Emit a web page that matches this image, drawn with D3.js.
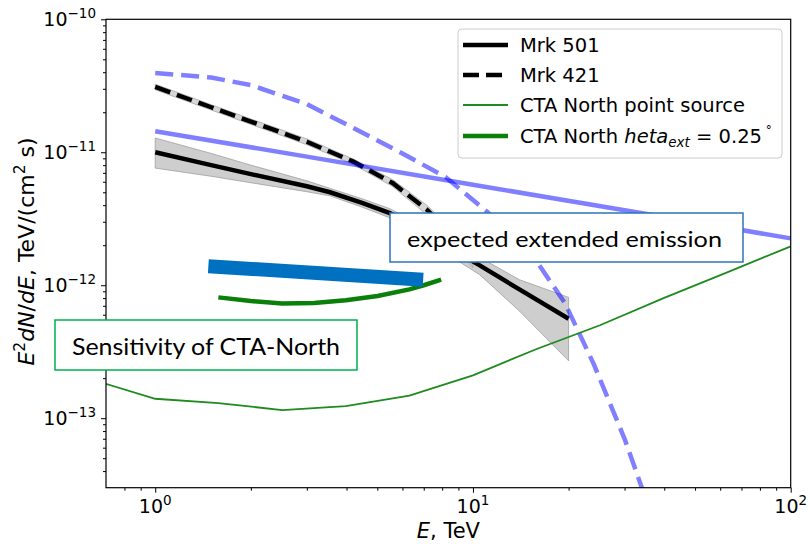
<!DOCTYPE html>
<html><head><meta charset="utf-8">
<script src="https://cdn.jsdelivr.net/npm/d3@7"></script>
<style>
body{margin:0;background:#fff}
svg{display:block}
text{font-family:"DejaVu Sans",sans-serif;fill:#000}
</style>
</head><body>
<svg id="c" width="810" height="544"></svg>
<script>
// ---------------- data ----------------
const mrk501E     = [1, 1.5, 2, 3, 3.55, 4.5, 5.5, 7, 10.5, 14, 20];
const mrk501F     = [1e-11, 8.0e-12, 6.85e-12, 5.55e-12, 5.0e-12, 4.15e-12, 3.47e-12, 2.48e-12, 1.41e-12, 9.3e-13, 5.6e-13];
const mrk501Hi    = [1.28e-11, 9.8e-12, 8.0e-12, 6.1e-12, 5.35e-12, 4.45e-12, 3.75e-12, 2.75e-12, 1.62e-12, 1.1e-12, 8.1e-13];
const mrk501Lo    = [7.6e-12, 6.6e-12, 5.9e-12, 5.05e-12, 4.7e-12, 3.85e-12, 3.2e-12, 2.22e-12, 1.2e-12, 6.4e-13, 2.7e-13];

const mrk421E     = [1, 1.5, 2, 2.47, 3, 4.2, 5.6, 7.2, 10];
const mrk421F     = [3.1e-11, 2.18e-11, 1.7e-11, 1.42e-11, 1.2e-11, 8.5e-12, 5.85e-12, 3.66e-12, 1.6e-12];
const mrk421Hi    = [3.25e-11, 2.28e-11, 1.78e-11, 1.49e-11, 1.26e-11, 8.9e-12, 6.2e-12, 3.95e-12, 1.85e-12];
const mrk421Lo    = [2.95e-11, 2.08e-11, 1.62e-11, 1.35e-11, 1.14e-11, 8.1e-12, 5.5e-12, 3.35e-12, 1.35e-12];

const extSolidE   = [1, 3, 10, 30, 100];
const extSolidF   = [1.44e-11, 9.27e-12, 5.7e-12, 3.66e-12, 2.25e-12];

const extDashE    = [1, 1.5, 2, 3, 4.4, 6, 8.2, 11.1, 15, 19.5, 24, 30, 34, 40];
const extDashF    = [3.95e-11, 3.65e-11, 3.2e-11, 2.3e-11, 1.44e-11, 9.8e-12, 6.5e-12, 3.55e-12, 1.84e-12, 7.3e-13, 2.55e-13, 7e-14, 3e-14, 1e-14];

const ctaPointE   = [0.631, 1, 1.58, 2.51, 3.98, 6.31, 10, 15.8, 25.1, 39.8, 63.1, 100];
const ctaPointF   = [1.95e-13, 1.40e-13, 1.30e-13, 1.15e-13, 1.23e-13, 1.48e-13, 2.1e-13, 3.3e-13, 5.0e-13, 8.0e-13, 1.25e-12, 1.96e-12];

const ctaExtE     = [1.58, 2, 2.51, 3.16, 3.98, 5.01, 6.31, 7.0, 7.94];
const ctaExtF     = [8.1e-13, 7.6e-13, 7.3e-13, 7.35e-13, 7.7e-13, 8.3e-13, 9.3e-13, 1.0e-12, 1.1e-12];

const barE        = [1.47, 6.97];
const barF        = [1.39e-12, 1.1e-12];

const xMajor      = [1, 10, 100];
const xMajorExp   = ["0", "1", "2"];
const xMinor      = [0.8, 0.9, 2, 3, 4, 5, 6, 7, 8, 9, 20, 30, 40, 50, 60, 70, 80, 90];
const yMajor      = [1e-13, 1e-12, 1e-11, 1e-10];
const yMajorExp   = ["\u221213", "\u221212", "\u221211", "\u221210"];
const yMinor      = [4e-14,5e-14,6e-14,7e-14,8e-14,9e-14,
                     2e-13,3e-13,4e-13,5e-13,6e-13,7e-13,8e-13,9e-13,
                     2e-12,3e-12,4e-12,5e-12,6e-12,7e-12,8e-12,9e-12,
                     2e-11,3e-11,4e-11,5e-11,6e-11,7e-11,8e-11,9e-11];

const legendLabels = ["Mrk 501", "Mrk 421", "CTA North point source", "CTA North"];
const note1 = "expected extended emission";
const note2 = "Sensitivity of CTA-North";

// ---------------- layout ----------------
const L = 106, R = 790.7, T = 19.3, B = 487.7;
const svg = d3.select("#c");
const x = d3.scaleLog().domain([0.7, 100]).range([L, R]);
const y = d3.scaleLog().domain([3e-14, 1e-10]).range([B, T]);

svg.append("defs").append("clipPath").attr("id","clip")
  .append("rect").attr("x",L).attr("y",T).attr("width",R-L).attr("height",B-T);
const plot = svg.append("g").attr("clip-path","url(#clip)");

const line = d3.line().x(d=>x(d[0])).y(d=>y(d[1]));
const zip = (a,b)=>a.map((v,i)=>[v,b[i]]);
const band = (E,hi,lo)=>{
  const pts = E.map((e,i)=>[x(e),y(hi[i])]).concat(E.map((e,i)=>[x(e),y(lo[i])]).reverse());
  return "M"+pts.map(p=>p.join(",")).join("L")+"Z";
};

// bands
plot.append("path").attr("d",band(mrk501E,mrk501Hi,mrk501Lo))
  .attr("fill","#bdbdbd").attr("fill-opacity",0.75).attr("stroke","#9e9e9e").attr("stroke-width",0.8);
plot.append("path").attr("d",band(mrk421E,mrk421Hi,mrk421Lo))
  .attr("fill","#c4c4c4").attr("fill-opacity",0.7).attr("stroke","#a8a8a8").attr("stroke-width",0.8);

// Mrk lines
plot.append("path").attr("d",line(zip(mrk501E,mrk501F)))
  .attr("fill","none").attr("stroke","#000").attr("stroke-width",4.5);
plot.append("path").attr("d",line(zip(mrk421E,mrk421F)))
  .attr("fill","none").attr("stroke","#000").attr("stroke-width",4.5).attr("stroke-dasharray","16,7");

// extended emission models (blue, semi-transparent)
plot.append("path").attr("d",line(zip(extSolidE,extSolidF)))
  .attr("fill","none").attr("stroke","#0000ff").attr("stroke-opacity",0.5).attr("stroke-width",4.5);
plot.append("path").attr("d",line(zip(extDashE,extDashF)))
  .attr("fill","none").attr("stroke","#0000ff").attr("stroke-opacity",0.5).attr("stroke-width",4.5).attr("stroke-dasharray","18,8");

// CTA sensitivities
plot.append("path").attr("d",line(zip(ctaPointE,ctaPointF)))
  .attr("fill","none").attr("stroke","#1f8a1f").attr("stroke-width",1.8);
plot.append("path").attr("d",line(zip(ctaExtE,ctaExtF)))
  .attr("fill","none").attr("stroke","#0a800a").attr("stroke-width",4.5);

// annotation bar
plot.append("path").attr("d",line(zip(barE,barF)))
  .attr("fill","none").attr("stroke","#0070C0").attr("stroke-width",14);

// ---------------- axes ----------------
const gx = svg.append("g").attr("transform",`translate(0,${B})`);
gx.call(d3.axisBottom(x).tickValues(xMajor).tickSize(5).tickFormat(""));
const gxm = svg.append("g").attr("transform",`translate(0,${B})`);
gxm.call(d3.axisBottom(x).tickValues(xMinor).tickSize(3).tickFormat(""));
const gy = svg.append("g").attr("transform",`translate(${L},0)`);
gy.call(d3.axisLeft(y).tickValues(yMajor).tickSize(5).tickFormat(""));
const gym = svg.append("g").attr("transform",`translate(${L},0)`);
gym.call(d3.axisLeft(y).tickValues(yMinor).tickSize(3).tickFormat(""));
svg.selectAll(".domain").remove();
svg.selectAll(".tick line").attr("stroke","#000").attr("stroke-width",1);

svg.append("rect").attr("x",L).attr("y",T).attr("width",R-L).attr("height",B-T)
  .attr("fill","none").attr("stroke","#000").attr("stroke-width",1.2);

// tick labels
xMajor.forEach((v,i)=>{
  const t = svg.append("text").attr("x",x(v)).attr("y",B+25).attr("text-anchor","middle")
    .attr("font-size",19);
  t.append("tspan").text("10");
  t.append("tspan").attr("font-size",13.5).attr("dy",-8).text(xMajorExp[i]);
});
yMajor.forEach((v,i)=>{
  const t = svg.append("text").attr("x",L-10).attr("y",y(v)+7).attr("text-anchor","end")
    .attr("font-size",19);
  t.append("tspan").text("10");
  t.append("tspan").attr("font-size",13.5).attr("dy",-8).text(yMajorExp[i]);
});

// axis labels
const xl = svg.append("text").attr("x",(L+R)/2).attr("y",538).attr("text-anchor","middle").attr("font-size",21);
xl.append("tspan").attr("font-style","italic").text("E");
xl.append("tspan").text(", TeV");

const yl = svg.append("text").attr("transform",`translate(34,${(T+B)/2 - 2}) rotate(-90)`)
  .attr("text-anchor","middle").attr("font-size",22);
yl.append("tspan").attr("font-style","italic").text("E");
yl.append("tspan").attr("font-size",15.5).attr("dy",-9).text("2");
yl.append("tspan").attr("font-style","italic").attr("dy",9).text("dN");
yl.append("tspan").text("/");
yl.append("tspan").attr("font-style","italic").text("dE");
yl.append("tspan").text(", TeV/(cm");
yl.append("tspan").attr("font-size",15.5).attr("dy",-9).text("2");
yl.append("tspan").attr("dy",9).text(" s)");

// ---------------- legend ----------------
const lg = svg.append("g");
lg.append("rect").attr("x",458).attr("y",29).attr("width",324).attr("height",129)
  .attr("rx",4).attr("fill","#fff").attr("fill-opacity",0.85).attr("stroke","#cccccc").attr("stroke-width",1);
const rows = [
  {yc:45,  stroke:"#000", w:4.5, dash:null},
  {yc:75,  stroke:"#000", w:4.5, dash:"16,7"},
  {yc:105, stroke:"#1f8a1f", w:1.8, dash:null},
  {yc:136, stroke:"#0a800a", w:4.5, dash:null}
];
rows.forEach((r,i)=>{
  const l = lg.append("line").attr("x1",463).attr("x2",508).attr("y1",r.yc).attr("y2",r.yc)
    .attr("stroke",r.stroke).attr("stroke-width",r.w);
  if(r.dash) l.attr("stroke-dasharray",r.dash);
  const t = lg.append("text").attr("x",520).attr("y",r.yc+7).attr("font-size",19.5);
  t.append("tspan").text(legendLabels[i]);
  if(i===3){
    t.append("tspan").text(" ");
    t.append("tspan").attr("font-style","italic").text("heta");
    t.append("tspan").attr("font-style","italic").attr("font-size",13.5).attr("dy",4).text("ext");
    t.append("tspan").attr("dy",-4).text(" = 0.25");
    t.append("tspan").attr("font-size",12).attr("dy",-9).text(" \u00b0");
  }
});

// ---------------- annotation boxes ----------------
svg.append("rect").attr("x",390).attr("y",213).attr("width",353).attr("height",49)
  .attr("fill","#fff").attr("stroke","#2E75B6").attr("stroke-width",1.5);
svg.append("text").attr("x",407).attr("y",247).attr("font-size",22)
  .style("font-family","Lato, 'Open Sans', sans-serif")
  .attr("textLength",315).attr("lengthAdjust","spacingAndGlyphs").text(note1);

svg.append("rect").attr("x",55).attr("y",320).attr("width",302).attr("height",50)
  .attr("fill","#fff").attr("stroke","#00B050").attr("stroke-width",1.5);
svg.append("text").attr("x",72).attr("y",355).attr("font-size",23)
  .style("font-family","Lato, 'Open Sans', sans-serif")
  .attr("textLength",268).attr("lengthAdjust","spacingAndGlyphs").text(note2);
</script>
</body></html>
